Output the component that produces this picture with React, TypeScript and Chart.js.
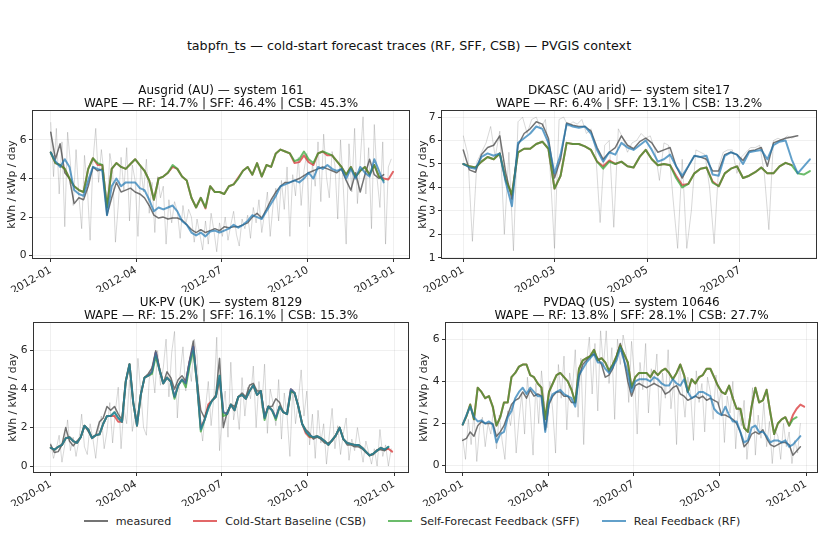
import React, { useEffect, useRef } from 'react';
import { Chart, registerables } from 'chart.js';

Chart.register(...registerables);
Chart.defaults.font.family = "'DejaVu Sans', sans-serif";

// ---------- tick labels ----------
const YEAR_TICKS = [0, 91, 182, 274, 366];
const TICKS_2012 = ['2012-01', '2012-04', '2012-07', '2012-10', '2013-01'];
const TICKS_2020 = ['2020-01', '2020-04', '2020-07', '2020-10', '2021-01'];
const DK_TICKS = [0, 60, 121, 182];
const DK_TICK_LABELS = ['2020-01', '2020-03', '2020-05', '2020-07'];

// ---------- Ausgrid (AU) — system 161, 2012 ----------
const AUS_STEP = 5;
const AUS_RAW_STEP = 3;
const AUS_RAW = [6.9,4.1,6.6,3.2,5.9,1.5,6.4,4.8,2.6,5.5,3.1,1.4,5.2,3.6,0.8,4.9,6.6,3.8,5.5,4.2,2.1,5.3,4.4,0.7,2.6,5.1,3.4,5.6,1.8,4.7,3.9,1.0,4.6,3.3,5.0,2.2,3.8,1.2,4.1,3.0,3.6,0.6,2.9,1.7,2.8,2.3,0.9,2.6,1.6,2.4,2.0,0.7,1.9,1.1,0.3,1.8,0.6,2.2,1.3,0.2,1.7,1.0,2.0,0.8,1.6,2.3,1.1,0.5,1.9,1.4,2.1,0.9,2.5,1.7,2.9,1.2,2.2,3.3,1.0,2.6,3.5,1.8,3.9,2.4,4.6,1.0,4.2,3.1,5.1,2.6,4.4,5.3,1.5,4.8,3.6,5.9,2.8,6.3,4.1,3.0,5.4,4.7,1.9,6.0,3.5,0.6,5.8,3.3,6.6,2.7,4.9,7.2,3.2,5.6,1.4,6.8,4.0,2.5,5.9,0.6,4.6,5.0];
const AUS_MEAS = [6.4,5.0,5.8,4.3,4.0,2.7,3.0,2.9,3.6,4.6,4.4,4.5,2.1,3.0,3.8,3.3,3.4,3.5,3.3,3.2,3.0,2.6,2.1,1.95,2.0,1.9,1.95,1.95,1.85,1.6,1.35,1.2,1.35,1.2,1.3,1.4,1.3,1.5,1.45,1.5,1.5,1.6,1.7,2.0,2.2,1.95,2.4,2.9,3.3,3.6,3.8,3.8,3.9,4.0,4.15,4.3,4.4,4.5,4.6,4.5,4.4,4.3,4.5,3.9,3.4,4.3,3.3,4.2,5.0,4.2,4.0,4.2];
const AUS_CSB = [5.35,4.8,4.7,4.5,4.0,3.6,3.4,3.3,4.5,5.05,4.7,4.7,2.5,4.5,4.8,4.6,4.5,4.75,5.0,4.7,4.4,3.9,2.9,4.0,4.1,4.3,4.6,4.5,4.1,3.9,3.0,2.5,3.0,2.45,3.6,3.3,3.3,3.2,3.6,3.7,4.05,4.4,4.6,4.2,4.8,4.1,4.7,4.6,5.3,5.5,5.4,5.3,4.8,4.85,5.2,4.85,4.7,5.3,5.4,5.2,5.2,4.9,4.6,4.2,4.6,4.1,4.4,4.6,4.2,4.7,4.1,4.0,3.95,4.35];
const AUS_SFF = [5.35,4.8,4.7,4.5,4.0,3.6,3.4,3.3,4.5,5.05,4.8,4.7,2.5,4.5,4.8,4.6,4.5,4.75,5.0,4.7,4.4,3.9,2.9,4.0,4.1,4.3,4.7,4.5,4.1,3.9,3.0,2.5,3.0,2.5,3.6,3.3,3.3,3.2,3.6,3.7,4.0,4.4,4.6,4.2,4.8,4.1,4.7,4.6,5.3,5.5,5.4,5.3,4.9,5.0,5.4,5.0,4.8,5.3,5.4,5.3,5.2,4.9,4.6,4.2,4.6,4.1,4.4,4.6,4.2,4.7,4.1,3.9];
const AUS_RF = [5.35,4.9,4.6,5.0,4.6,3.4,3.2,3.1,3.9,4.6,4.5,4.4,2.1,3.6,4.0,3.6,3.8,3.8,3.8,3.5,3.4,2.9,2.3,2.5,2.4,2.5,2.6,2.3,1.8,1.6,1.2,1.05,1.2,1.0,1.25,1.3,1.2,1.3,1.4,1.6,1.45,1.6,1.8,2.1,2.0,1.9,2.3,2.7,3.1,3.6,3.7,3.8,3.9,3.8,4.0,4.3,4.0,4.6,4.5,4.7,4.5,4.4,4.5,4.0,4.5,4.0,4.6,4.3,4.1,5.0,4.4,3.8];

// ---------- DKASC (AU arid) — system site17, 2020 ----------
const DK_STEP = 4;
const DK_RAW_STEP = 3;
const DK_RAW = [6.2,5.4,1.7,5.1,5.5,5.9,6.6,5.3,6.4,2.0,5.5,1.3,6.8,7.0,6.3,6.9,7.0,6.5,6.9,4.9,1.4,6.9,7.0,6.6,6.8,6.7,6.9,6.3,6.5,5.6,2.5,5.8,6.0,2.3,6.5,6.1,5.5,5.9,6.0,6.3,6.1,6.2,5.6,4.3,5.9,5.8,3.5,1.4,5.2,1.4,3.0,5.6,5.5,5.4,4.0,1.6,4.9,5.5,5.6,5.6,4.6,5.3,5.5,5.7,5.7,5.8,4.6,2.2,6.0,6.1,6.0,6.2,6.1,6.2];
const DK_MEAS = [5.6,4.75,4.65,5.4,5.7,5.8,6.2,4.6,3.5,5.8,6.3,6.5,6.8,6.7,6.1,4.4,5.2,6.75,6.65,6.6,6.6,6.4,5.7,5.2,5.5,5.7,6.2,5.8,5.65,5.95,6.1,5.9,5.5,5.6,5.7,4.9,4.4,4.9,5.35,5.3,5.2,4.7,4.7,5.4,5.5,5.4,5.15,5.55,5.6,5.7,4.9,5.9,6.0,6.1,6.15,6.2];
const DK_CSB = [5.0,4.9,4.85,5.1,5.3,5.2,5.45,4.3,3.7,5.5,5.65,5.65,5.85,5.95,5.65,3.95,4.5,5.9,5.85,5.85,5.75,5.6,5.1,4.9,5.15,5.0,5.1,4.9,4.85,5.3,5.6,5.2,4.95,5.0,4.95,4.5,4.1,4.15,4.6,4.8,4.85,4.25,4.05,4.6,4.8,4.9,4.4,4.5,4.65,4.85,4.6,4.6,4.9,5.05,4.95];
const DK_SFF = [5.0,4.9,4.85,5.1,5.3,5.2,5.45,4.3,3.7,5.5,5.65,5.65,5.85,5.95,5.65,3.95,4.5,5.9,5.85,5.85,5.75,5.6,5.1,4.8,5.1,5.0,5.1,4.9,4.85,5.3,5.6,5.2,4.95,5.0,4.95,4.4,4.0,4.15,4.6,4.8,4.85,4.2,4.05,4.6,4.8,4.9,4.4,4.5,4.65,4.85,4.6,4.6,4.9,5.05,4.95,4.6,4.55,4.7];
const DK_RF = [5.0,4.85,4.8,5.3,5.45,5.35,5.45,4.2,3.2,5.9,6.1,6.3,6.6,6.5,5.9,4.6,5.4,6.7,6.6,6.55,6.6,6.3,5.6,5.1,5.5,5.4,5.9,5.7,5.6,5.8,6.0,5.6,5.1,5.2,5.4,4.9,4.5,4.9,5.35,5.3,5.35,4.55,4.5,5.35,5.5,5.4,5.0,5.5,5.55,5.6,5.2,5.8,5.95,6.0,5.2,4.6,4.9,5.2];

// ---------- UK-PV (UK) — system 8129, 2020 ----------
const UK_STEP = 4;
const UK_RAW_STEP = 3;
const UK_RAW = [1.2,0.4,0.9,1.6,0.2,1.1,2.4,0.8,1.5,0.5,1.3,2.7,1.0,0.6,2.2,1.4,0.4,1.9,2.6,0.9,1.8,3.3,1.2,2.9,4.1,0.9,3.0,2.2,4.5,1.8,2.7,5.6,3.9,2.0,1.6,4.5,5.2,3.8,6.0,4.2,5.1,6.6,3.6,5.9,7.0,2.5,4.8,6.2,3.9,5.3,4.4,6.6,5.8,2.4,1.3,3.0,4.4,2.1,3.6,6.7,0.8,2.8,3.9,1.5,5.4,2.4,3.3,1.9,4.6,2.6,4.1,3.5,5.2,2.0,4.4,3.0,5.3,1.7,4.0,3.3,2.1,4.5,1.4,3.8,2.6,0.5,4.0,2.2,3.4,5.0,2.6,3.9,1.1,2.7,0.4,2.9,1.2,2.2,0.1,1.6,3.0,0.9,2.1,0.6,1.7,2.5,0.3,1.4,0.8,2.0,1.1,0.2,1.3,0.7,0.1,0.9,0.0,1.9,0.5,1.1,0.0,0.9];
const UK_MEAS = [1.1,0.7,0.75,1.1,2.0,1.3,1.05,1.3,1.5,2.1,1.8,1.5,1.6,2.3,2.5,3.1,2.9,3.1,2.7,2.4,4.4,5.3,3.3,2.2,3.7,4.6,4.8,5.1,6.0,5.1,4.3,4.9,4.6,4.0,4.5,4.7,4.4,5.5,6.5,4.4,2.9,2.5,3.1,3.4,3.7,5.6,2.0,2.8,3.2,3.1,3.6,3.8,3.6,4.2,4.3,3.9,3.9,2.6,3.1,3.1,3.5,3.3,2.8,2.7,3.9,3.8,3.1,2.2,1.9,1.7,1.4,1.5,1.4,1.2,1.2,1.3,1.6,2.0,1.4,1.1,1.1,1.0,1.0,0.9,0.7,0.55,0.6,0.85,0.85,0.8,0.95];
const UK_CSB = [0.95,0.85,1.0,1.1,1.45,1.5,1.3,1.2,1.5,2.1,1.9,1.45,1.6,1.65,2.2,2.6,2.6,2.6,2.3,2.3,4.4,5.3,3.3,2.1,3.7,4.6,4.7,4.9,5.9,5.0,4.3,4.6,4.4,3.6,4.2,4.5,4.3,5.4,6.2,4.3,2.0,2.4,3.2,3.4,3.6,4.5,2.8,2.7,3.2,2.9,3.6,3.7,3.5,3.9,4.2,3.7,3.9,2.5,3.1,2.9,2.5,3.1,2.8,2.7,4.0,3.8,3.1,2.2,1.7,1.5,1.5,1.55,1.45,1.3,1.1,1.35,1.6,2.0,1.4,1.2,1.15,1.1,1.1,0.95,0.75,0.55,0.65,0.8,0.95,0.85,0.9,0.75];
const UK_SFF = [0.95,0.85,1.0,1.1,1.45,1.5,1.3,1.2,1.5,2.1,1.9,1.45,1.6,1.65,2.2,2.6,2.6,2.8,2.5,2.3,4.4,5.3,3.3,2.1,3.7,4.6,4.7,4.8,5.7,5.0,4.3,4.6,4.4,3.5,4.2,4.5,4.1,5.2,6.0,4.3,1.8,2.4,3.0,3.4,3.6,4.7,2.6,2.7,3.2,2.9,3.6,3.7,3.5,3.9,4.2,3.7,3.9,2.4,3.1,2.9,2.4,3.1,2.8,2.7,3.9,3.8,3.1,2.2,1.8,1.55,1.5,1.55,1.45,1.3,1.1,1.35,1.6,2.0,1.4,1.2,1.15,1.1,1.1,0.95,0.75,0.55,0.65,0.8,0.95,0.85,1.0];
const UK_RF = [0.95,0.85,1.0,1.1,1.45,1.5,1.3,1.2,1.5,2.1,1.9,1.45,1.6,1.65,2.2,2.6,2.6,2.8,2.5,2.3,4.4,5.3,3.3,2.1,3.7,4.6,4.7,4.9,5.9,5.0,4.3,4.6,4.4,3.6,4.2,4.5,4.3,5.4,6.2,4.3,1.9,2.4,3.0,3.4,3.6,4.7,2.8,2.7,3.2,2.9,3.6,3.7,3.5,3.9,4.2,3.7,3.9,2.5,3.1,2.9,2.5,3.1,2.8,2.7,4.0,3.8,3.1,2.2,1.8,1.6,1.5,1.55,1.45,1.3,1.1,1.35,1.6,2.0,1.4,1.2,1.15,1.1,1.1,0.95,0.75,0.55,0.65,0.8,0.95,0.85,1.0];

// ---------- PVDAQ (US) — system 10646, 2020 ----------
const PV_STEP = 4;
const PV_RAW_STEP = 3;
const PV_RAW = [1.3,0.3,2.2,1.0,2.5,0.2,1.8,2.3,0.9,2.0,1.5,2.8,0.8,2.4,1.2,0.3,2.6,1.9,3.0,0.6,2.2,3.4,1.5,4.2,2.7,0.5,3.9,2.0,4.5,3.1,1.8,4.0,2.6,0.6,4.8,3.2,5.2,1.7,4.4,3.6,5.5,2.3,5.1,1.0,4.9,6.1,3.4,5.8,2.6,6.4,4.7,6.4,3.9,5.6,2.2,6.0,4.8,6.2,5.5,3.0,5.9,4.3,1.5,4.9,3.6,5.8,2.5,4.6,3.9,5.3,1.9,4.4,3.2,5.5,2.7,4.0,1.0,4.8,3.6,2.3,4.2,3.4,1.2,4.5,3.0,3.9,1.6,4.2,3.5,2.2,4.3,2.9,3.6,1.1,3.3,2.5,4.0,0.8,2.8,1.9,3.1,0.3,1.8,3.7,0.5,2.4,1.3,3.0,0.9,2.1,0.1,1.7,1.4,0.3,2.0,0.9,1.6,0.1,1.2,0.6,2.0];
const PV_MEAS = [1.2,1.3,1.6,1.4,1.9,2.1,2.0,2.0,2.0,1.4,1.6,1.9,2.4,2.9,3.1,3.2,3.5,3.2,3.6,3.3,3.4,3.3,1.7,2.9,3.3,3.5,3.5,3.3,3.3,3.0,3.0,4.2,4.8,5.0,5.2,5.3,5.1,4.8,4.2,4.3,4.6,5.2,5.8,5.0,4.0,3.3,3.8,3.9,3.8,3.7,3.8,3.9,3.8,3.7,3.4,3.5,3.7,3.8,3.4,3.3,3.1,3.2,3.3,3.2,3.3,3.1,3.2,3.1,3.0,2.4,2.4,2.3,2.2,2.0,1.6,0.9,1.1,1.5,1.6,1.5,1.7,1.3,1.0,0.9,1.0,1.1,1.1,1.0,0.5,0.7,0.9];
const PV_CSB = [1.95,2.35,2.9,2.2,3.7,3.5,3.2,3.3,2.8,1.9,2.3,3.0,3.0,4.2,4.4,4.7,4.8,4.8,4.3,4.2,3.9,3.7,2.2,3.5,3.9,4.3,4.4,4.2,4.0,3.6,3.0,4.6,5.0,5.1,5.2,5.5,5.0,5.1,4.9,4.5,4.8,5.2,5.7,5.3,4.9,3.7,4.2,4.4,4.4,4.4,4.2,4.5,4.3,4.5,4.6,4.4,4.1,4.4,4.8,4.3,3.5,4.1,3.9,4.2,4.3,4.6,4.6,4.2,3.8,3.5,3.4,3.8,3.2,2.7,2.7,1.8,1.6,2.8,3.7,3.0,3.1,3.6,2.5,1.5,2.0,2.2,2.3,1.9,2.4,2.7,2.9,2.8];
const PV_SFF = [1.95,2.35,2.9,2.2,3.7,3.5,3.2,3.3,2.8,1.9,2.3,3.0,3.0,4.2,4.4,4.7,4.8,4.8,4.3,4.2,3.9,3.7,2.2,3.5,3.9,4.3,4.4,4.2,4.0,3.6,3.0,4.6,5.0,5.1,5.2,5.5,5.0,5.1,4.9,4.5,4.8,5.2,5.7,5.3,4.9,3.7,4.2,4.4,4.4,4.4,4.2,4.5,4.3,4.5,4.6,4.4,4.1,4.4,4.8,4.3,3.5,4.1,3.9,4.2,4.3,4.6,4.6,4.2,3.8,3.5,3.4,3.8,3.2,2.7,2.7,1.8,1.6,2.8,3.7,3.0,3.1,3.6,2.5,1.5,2.0,2.2,2.3,1.9,2.2,2.3];
const PV_RF = [1.95,2.4,2.8,2.3,2.1,2.15,2.0,2.1,1.95,1.1,1.5,1.6,2.3,2.6,3.2,3.5,3.7,3.4,3.7,3.5,3.3,3.3,1.6,3.0,3.4,3.5,3.6,3.4,3.3,3.2,2.8,4.3,4.6,4.9,5.1,5.3,4.9,4.9,4.6,4.4,4.7,5.0,5.6,5.0,4.4,3.5,4.0,4.1,4.1,4.1,4.0,4.2,4.1,3.9,3.8,3.8,4.1,3.9,3.8,4.1,3.5,3.2,3.3,3.5,3.5,3.4,3.3,2.7,2.5,2.4,2.8,2.4,2.1,2.1,1.6,1.1,1.2,1.8,1.9,1.6,1.6,1.4,1.1,1.2,1.2,1.1,1.2,0.9,1.0,1.2,1.4];

// ---------- styling ----------
const RAW_COLOR = 'rgba(110,110,110,0.3)';
const MEAS_COLOR = 'rgba(70,70,70,0.75)';
const CSB_COLOR = 'rgba(214,39,40,0.7)';
const SFF_COLOR = 'rgba(44,160,44,0.7)';
const RF_COLOR = 'rgba(31,119,180,0.7)';
const TEXT_COLOR = '#262626';
const GRID_COLOR = 'rgba(0,0,0,0.08)';
const FONT = "'DejaVu Sans', sans-serif";

const TOP_PAD = 30;
const X_AXIS_H = 34;
const RIGHT_PAD = 6;

const PANELS = [
  {
    title: 'Ausgrid (AU) — system 161',
    wape: 'WAPE — RF: 14.7% | SFF: 46.4% | CSB: 45.3%',
    box: { l: 33, t: 111, r: 409, b: 258 }, yW: 27,
    xMin: -18.9, xMax: 382, yMin: -0.12, yMax: 7.5,
    yTicks: [0, 2, 4, 6], xTicks: YEAR_TICKS, xLabels: TICKS_2012,
    step: AUS_STEP, rawStep: AUS_RAW_STEP,
    raw: AUS_RAW, meas: AUS_MEAS, csb: AUS_CSB, sff: AUS_SFF, rf: AUS_RF,
  },
  {
    title: 'DKASC (AU arid) — system site17',
    wape: 'WAPE — RF: 6.4% | SFF: 13.1% | CSB: 13.2%',
    box: { l: 442, t: 111, r: 816, b: 258 }, yW: 25,
    xMin: -14, xMax: 232, yMin: 0.99, yMax: 7.26,
    yTicks: [1, 2, 3, 4, 5, 6, 7], xTicks: DK_TICKS, xLabels: DK_TICK_LABELS,
    step: DK_STEP, rawStep: DK_RAW_STEP,
    raw: DK_RAW, meas: DK_MEAS, csb: DK_CSB, sff: DK_SFF, rf: DK_RF,
  },
  {
    title: 'UK-PV (UK) — system 8129',
    wape: 'WAPE — RF: 15.2% | SFF: 16.1% | CSB: 15.3%',
    box: { l: 34, t: 323, r: 408, b: 472 }, yW: 27,
    xMin: -17.8, xMax: 380.9, yMin: -0.31, yMax: 7.44,
    yTicks: [0, 2, 4, 6], xTicks: YEAR_TICKS, xLabels: TICKS_2020,
    step: UK_STEP, rawStep: UK_RAW_STEP,
    raw: UK_RAW, meas: UK_MEAS, csb: UK_CSB, sff: UK_SFF, rf: UK_RF,
  },
  {
    title: 'PVDAQ (US) — system 10646',
    wape: 'WAPE — RF: 13.8% | SFF: 28.1% | CSB: 27.7%',
    box: { l: 446, t: 323, r: 817, b: 472 }, yW: 28,
    xMin: -17.8, xMax: 377.7, yMin: -0.3, yMax: 6.77,
    yTicks: [0, 2, 4, 6], xTicks: YEAR_TICKS, xLabels: TICKS_2020,
    step: PV_STEP, rawStep: PV_RAW_STEP,
    raw: PV_RAW, meas: PV_MEAS, csb: PV_CSB, sff: PV_SFF, rf: PV_RF,
  },
];

const LEGEND = [
  { label: 'measured', color: MEAS_COLOR, width: 1.6 },
  { label: 'Cold-Start Baseline (CSB)', color: CSB_COLOR, width: 2 },
  { label: 'Self-Forecast Feedback (SFF)', color: SFF_COLOR, width: 2 },
  { label: 'Real Feedback (RF)', color: RF_COLOR, width: 2 },
];

function toPoints(values: number[], step: number) {
  return values.map((v, i) => ({ x: i * step, y: v }));
}

function lineSet(label: string, values: number[], step: number, color: string, width: number, order: number) {
  return {
    label,
    data: toPoints(values, step),
    borderColor: color,
    backgroundColor: color,
    borderWidth: width,
    pointRadius: 0,
    tension: 0,
    fill: false,
    order,
    borderJoinStyle: 'round',
    borderCapStyle: 'round',
  };
}

function Panel({ p }: { p: any }) {
  const ref = useRef<HTMLCanvasElement>(null);
  const width = p.yW + (p.box.r - p.box.l) + RIGHT_PAD;
  const height = TOP_PAD + (p.box.b - p.box.t) + X_AXIS_H;

  useEffect(() => {
    const framePlugin = {
      id: 'frameAndTitle',
      afterDatasetsDraw(chart: any) {
        const { ctx, chartArea: a } = chart;
        ctx.save();
        ctx.strokeStyle = '#333333';
        ctx.lineWidth = 1;
        ctx.strokeRect(a.left - 0.5, a.top - 0.5, a.right - a.left + 1, a.bottom - a.top + 1);
        ctx.restore();
      },
      afterDraw(chart: any) {
        const { ctx, chartArea: a } = chart;
        const cx = (a.left + a.right) / 2;
        ctx.save();
        ctx.fillStyle = '#111111';
        ctx.font = `12px ${FONT}`;
        ctx.textAlign = 'center';
        ctx.textBaseline = 'middle';
        ctx.fillText(p.title, cx, a.top - 20);
        ctx.fillText(p.wape, cx, a.top - 7);
        ctx.restore();
      },
    };

    const tickFont = { size: 10.7, family: FONT };
    const chart = new Chart(ref.current as HTMLCanvasElement, {
      type: 'line',
      data: {
        datasets: [
          lineSet('raw', p.raw, p.rawStep, RAW_COLOR, 0.9, 5),
          lineSet('measured', p.meas, p.step, MEAS_COLOR, 1.5, 4),
          lineSet('CSB', p.csb, p.step, CSB_COLOR, 2, 3),
          lineSet('SFF', p.sff, p.step, SFF_COLOR, 2, 2),
          lineSet('RF', p.rf, p.step, RF_COLOR, 2, 1),
        ] as any,
      },
      options: {
        animation: false,
        responsive: false,
        events: [],
        layout: { padding: { top: TOP_PAD, right: RIGHT_PAD, left: 0, bottom: 0 } },
        plugins: {
          legend: { display: false },
          tooltip: { enabled: false },
          title: { display: false },
        },
        scales: {
          x: {
            type: 'linear',
            min: p.xMin,
            max: p.xMax,
            afterBuildTicks: (s: any) => {
              s.ticks = p.xTicks.map((v: number) => ({ value: v }));
            },
            afterFit: (s: any) => {
              s.height = X_AXIS_H;
              s.paddingLeft = 0;
              s.paddingRight = 0;
            },
            ticks: {
              autoSkip: false,
              minRotation: 30,
              maxRotation: 30,
              padding: 2,
              color: TEXT_COLOR,
              font: tickFont,
              callback: (v: any) => {
                const i = p.xTicks.indexOf(Number(v));
                return i >= 0 ? p.xLabels[i] : '';
              },
            },
            grid: {
              color: GRID_COLOR,
              lineWidth: 0.8,
              drawTicks: true,
              tickLength: 4,
              tickColor: '#333333',
              tickWidth: 1,
            },
            border: { display: false },
          },
          y: {
            type: 'linear',
            min: p.yMin,
            max: p.yMax,
            afterBuildTicks: (s: any) => {
              s.ticks = p.yTicks.map((v: number) => ({ value: v }));
            },
            afterFit: (s: any) => {
              s.width = p.yW;
              s.paddingTop = 0;
              s.paddingBottom = 0;
            },
            ticks: {
              padding: 2.5,
              color: TEXT_COLOR,
              font: tickFont,
              callback: (v: any) => String(v),
            },
            grid: {
              color: GRID_COLOR,
              lineWidth: 0.8,
              drawTicks: true,
              tickLength: 4,
              tickColor: '#333333',
              tickWidth: 1,
            },
            border: { display: false },
            title: {
              display: true,
              text: 'kWh / kWp / day',
              color: TEXT_COLOR,
              font: { size: 10.8, family: FONT },
              padding: 0,
            },
          },
        },
      } as any,
      plugins: [framePlugin],
    });
    return () => chart.destroy();
  }, []);

  return (
    <canvas
      ref={ref}
      width={width}
      height={height}
      style={{
        position: 'absolute',
        left: p.box.l - p.yW,
        top: p.box.t - TOP_PAD,
        width,
        height,
      }}
    />
  );
}

export default function App() {
  return (
    <div
      style={{
        position: 'absolute',
        left: 0,
        top: 0,
        width: 829,
        height: 554,
        background: '#ffffff',
        overflow: 'hidden',
        fontFamily: FONT,
      }}
    >
      <div
        style={{
          position: 'absolute',
          left: 0,
          top: 38,
          width: 818,
          textAlign: 'center',
          fontSize: 12.7,
          lineHeight: '16px',
          color: '#111111',
        }}
      >
        tabpfn_ts — cold-start forecast traces (RF, SFF, CSB) — PVGIS context
      </div>
      {PANELS.map((p) => (
        <Panel key={p.title} p={p} />
      ))}
      <div
        style={{
          position: 'absolute',
          left: 0,
          top: 513,
          width: 824,
          height: 16,
          display: 'flex',
          justifyContent: 'center',
          alignItems: 'center',
          gap: 22,
          fontSize: 11.1,
          color: TEXT_COLOR,
        }}
      >
        {LEGEND.map((item) => (
          <div key={item.label} style={{ display: 'flex', alignItems: 'center', whiteSpace: 'nowrap' }}>
            <div style={{ width: 24, height: item.width, background: item.color, marginRight: 8 }} />
            <span>{item.label}</span>
          </div>
        ))}
      </div>
    </div>
  );
}
